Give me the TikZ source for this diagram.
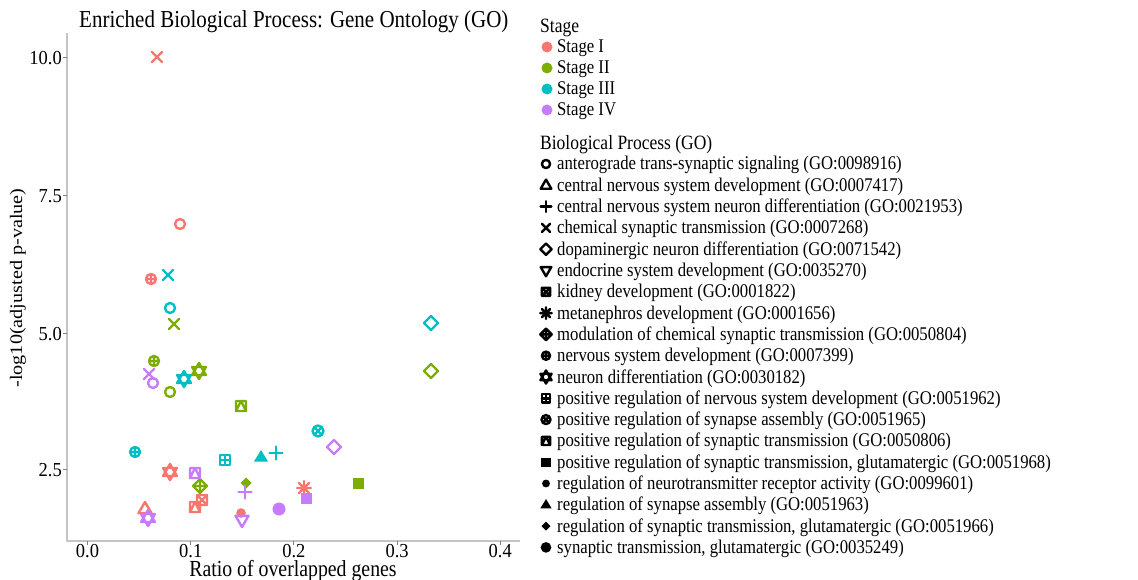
\documentclass[tikz,border=0pt]{standalone}
\usepackage{fontspec}
\usepackage{graphicx}
\setmainfont{Liberation Serif}
\newcommand{\vstretch}[1]{\scalebox{1}[1.16]{#1}}
\newcommand{\tstretch}[1]{\scalebox{1}[1.07]{#1}}
\newcommand{\vshrink}[1]{\scalebox{1}[0.87]{#1}}
\definecolor{stI}{HTML}{F8766D}
\definecolor{stII}{HTML}{7CAE00}
\definecolor{stIII}{HTML}{00BFC4}
\definecolor{stIV}{HTML}{C77CFF}
\definecolor{axgray}{HTML}{C4C4C4}
\tikzset{
  mk/.style={line width=2.4pt, line join=round, line cap=round},
  s1/.pic={\draw[mk] (0,0) circle (5);},
  s2/.pic={\draw[mk] (0,-7) -- (6.5,4.2) -- (-6.5,4.2) -- cycle;},
  s3/.pic={\draw[mk] (-6.5,0) -- (6.5,0) (0,-6.5) -- (0,6.5);},
  s4/.pic={\draw[mk] (-5,-5) -- (5,5) (-5,5) -- (5,-5);},
  s5/.pic={\draw[mk] (0,-7) -- (7,0) -- (0,7) -- (-7,0) -- cycle;},
  s6/.pic={\draw[mk] (0,7) -- (6.5,-4.2) -- (-6.5,-4.2) -- cycle;},
  s7/.pic={\draw[mk] (-5,-5) rectangle (5,5) (-5,-5) -- (5,5) (-5,5) -- (5,-5);},
  s8/.pic={\draw[mk] (-7,0) -- (7,0) (0,-7) -- (0,7) (-5,-5) -- (5,5) (-5,5) -- (5,-5);},
  s9/.pic={\draw[mk] (0,-7) -- (7,0) -- (0,7) -- (-7,0) -- cycle (-7,0) -- (7,0) (0,-7) -- (0,7);},
  s10/.pic={\draw[mk] (0,0) circle (5) (-5,0) -- (5,0) (0,-5) -- (0,5);},
  s11/.pic={\draw[mk] (0,-8) -- (6.9,4) -- (-6.9,4) -- cycle (0,8) -- (6.9,-4) -- (-6.9,-4) -- cycle;},
  s12/.pic={\draw[mk] (-5,-5) rectangle (5,5) (-5,0) -- (5,0) (0,-5) -- (0,5);},
  s13/.pic={\draw[mk] (0,0) circle (5.5) (-3.9,-3.9) -- (3.9,3.9) (-3.9,3.9) -- (3.9,-3.9);},
  s14/.pic={\draw[mk] (-5,-5) rectangle (5,5) (0,-5) -- (5,5) -- (-5,5) -- cycle;},
  s15/.pic={\fill (-5.5,-5.5) rectangle (5.5,5.5);},
  s16/.pic={\fill (0,0) circle (4.8);},
  s17/.pic={\fill (0,-7) -- (7,4.5) -- (-7,4.5) -- cycle;},
  s18/.pic={\fill (0,-5.5) -- (5.5,0) -- (0,5.5) -- (-5.5,0) -- cycle;},
  s19/.pic={\fill (0,0) circle (6.5);},
  axis/.style={draw=axgray, line width=1.2pt},
  tick/.style={draw=gray, line width=1pt},
  ticklab/.style={font=\fontsize{18.5}{20}\selectfont, inner sep=0pt},
  axtitle/.style={font=\fontsize{19.8}{22}\selectfont, inner sep=0pt},
  legtitle/.style={font=\fontsize{17.5}{19}\selectfont, inner sep=0pt, anchor=base west},
  legtext/.style={font=\fontsize{16.7}{18}\selectfont, inner sep=0pt, anchor=base west},
  legicon/.style={scale=0.82, color=black},
}
\begin{document}
\begin{tikzpicture}[x=1pt,y=-1pt]
\useasboundingbox (0,0) rectangle (1138,580);
% title
\node[font=\fontsize{21}{23}\selectfont, inner sep=0pt, anchor=base west] (title) at (79,28) {\vstretch{Enriched Biological Process: Gene Ontology (GO)}};
% axes
\coordinate (ytop) at (67,33);
\coordinate (origin) at (67,541);
\coordinate (xend) at (520,541);
\draw[axis] (ytop) -- (origin) -- (xend);
\foreach \v/\lab in {58/10.0,196/7.5,333/5.0,469/2.5}{
  \coordinate (yt\v) at (67,\v);
  \draw[tick] (yt\v) -- ++(-4,0);
  \node[ticklab, anchor=base east] (ylab\v) at (62,\v+7) {\tstretch{\lab}};
}
\foreach \k/\u/\lab in {0/87.5/0.0,1/190.7/0.1,2/293.9/0.2,3/397.1/0.3,4/500.3/0.4}{
  \coordinate (xt\k) at (\u,541);
  \draw[tick] (xt\k) -- ++(0,4);
  \node[ticklab, anchor=base] (xlab\k) at (\u,557.5) {\tstretch{\lab}};
}
\node[axtitle, anchor=base] (xtitle) at (293,576.5) {\vstretch{Ratio of overlapped genes}};
\node[font=\fontsize{20.2}{22}\selectfont, inner sep=0pt, rotate=90] (ytitle) at (18,288) {\vshrink{-log10(adjusted p-value)}};
% Stage I
\foreach \s/\px/\py in {s4/157/57, s1/180/224, s10/151/279, s11/170/472, s7/202/500, s14/195/507, s8/304/488, s16/241/513, s2/145/509}
  \pic[color=stI] at (\px,\py) {\s};
% Stage II
\foreach \s/\px/\py in {s4/174/324, s10/154/361, s11/199/371, s5/431/371, s1/170/392, s14/241/406, s9/200/486, s18/246/483, s15/358/483}
  \pic[color=stII] at (\px,\py) {\s};
% Stage III
\foreach \s/\px/\py in {s4/168/275, s1/170/308, s5/431/323, s11/184/379, s13/318/431, s10/135/452, s12/225/460, s17/261/457, s3/276/453}
  \pic[color=stIII] at (\px,\py) {\s};
% Stage IV
\foreach \s/\px/\py in {s4/149/374, s1/153/383, s5/334/447, s14/195/473, s3/245/492, s15/306/498, s19/279/509, s6/242/520, s11/148/518}
  \pic[color=stIV] at (\px,\py) {\s};
% legend: stage
\node[legtitle] (stagetitle) at (540,33) {\vstretch{Stage}};
\foreach \c/\y/\t in {stI/47/Stage I, stII/68/Stage II, stIII/89/Stage III, stIV/110/Stage IV}{
  \fill[\c] (547,\y) circle (5.5);
  \node[legtext] (leg\c) at (557,\y+6) {\vstretch{\t}};
}
% legend: GO
\node[legtitle] (gotitle) at (540,150) {\vstretch{Biological Process (GO)}};
\foreach \i/\t in {
 1/{anterograde trans-synaptic signaling (GO:0098916)},
 2/{central nervous system development (GO:0007417)},
 3/{central nervous system neuron differentiation (GO:0021953)},
 4/{chemical synaptic transmission (GO:0007268)},
 5/{dopaminergic neuron differentiation (GO:0071542)},
 6/{endocrine system development (GO:0035270)},
 7/{kidney development (GO:0001822)},
 8/{metanephros development (GO:0001656)},
 9/{modulation of chemical synaptic transmission (GO:0050804)},
 10/{nervous system development (GO:0007399)},
 11/{neuron differentiation (GO:0030182)},
 12/{positive regulation of nervous system development (GO:0051962)},
 13/{positive regulation of synapse assembly (GO:0051965)},
 14/{positive regulation of synaptic transmission (GO:0050806)},
 15/{positive regulation of synaptic transmission, glutamatergic (GO:0051968)},
 16/{regulation of neurotransmitter receptor activity (GO:0099601)},
 17/{regulation of synapse assembly (GO:0051963)},
 18/{regulation of synaptic transmission, glutamatergic (GO:0051966)},
 19/{synaptic transmission, glutamatergic (GO:0035249)}}{
  \pgfmathsetmacro{\yy}{164+21.3*(\i-1)}
  \pic[legicon] at (546,\yy) {s\i};
  \node[legtext] (go\i) at (557,\yy+6) {\vstretch{\t}};
}
\end{tikzpicture}
\end{document}
